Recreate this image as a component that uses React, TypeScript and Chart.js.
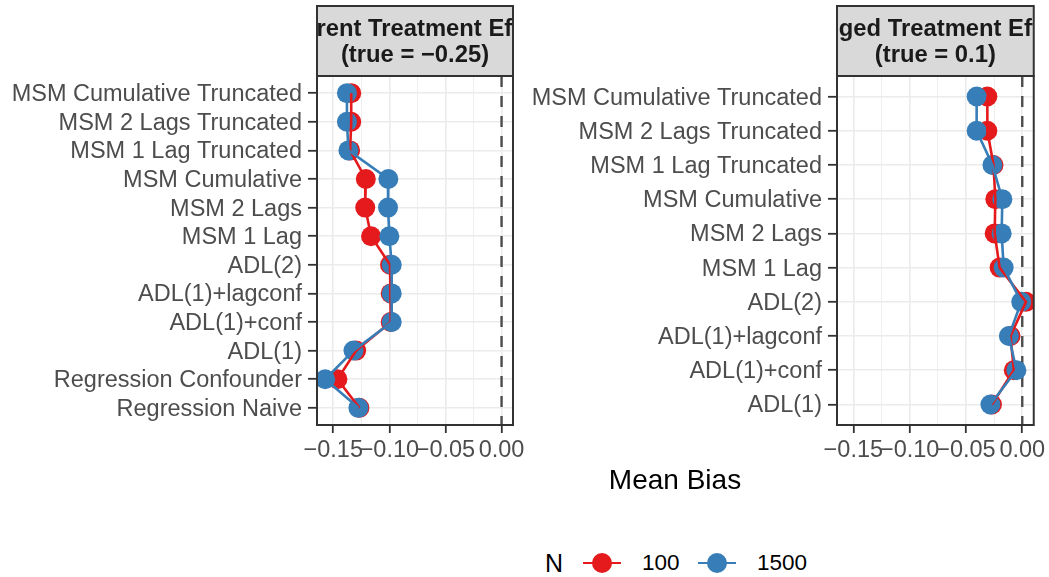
import React, { useEffect, useRef } from "react";
import { Chart, registerables } from "chart.js";

Chart.register(...registerables);

const FONT = "'Liberation Sans', Arial, Helvetica, sans-serif";

// ---- data ----
const LEFT_CATEGORIES = [
  "MSM Cumulative Truncated",
  "MSM 2 Lags Truncated",
  "MSM 1 Lag Truncated",
  "MSM Cumulative",
  "MSM 2 Lags",
  "MSM 1 Lag",
  "ADL(2)",
  "ADL(1)+lagconf",
  "ADL(1)+conf",
  "ADL(1)",
  "Regression Confounder",
  "Regression Naive",
];
const LEFT_N100 = [-0.134, -0.134, -0.135, -0.121, -0.1215, -0.1163, -0.0994, -0.0988, -0.0988, -0.1296, -0.1463, -0.1267];
const LEFT_N1500 = [-0.1378, -0.1378, -0.1365, -0.1009, -0.1012, -0.1, -0.0979, -0.0979, -0.0979, -0.132, -0.1572, -0.1276];

const RIGHT_CATEGORIES = [
  "MSM Cumulative Truncated",
  "MSM 2 Lags Truncated",
  "MSM 1 Lag Truncated",
  "MSM Cumulative",
  "MSM 2 Lags",
  "MSM 1 Lag",
  "ADL(2)",
  "ADL(1)+lagconf",
  "ADL(1)+conf",
  "ADL(1)",
];
const RIGHT_N100 = [-0.031, -0.031, -0.0255, -0.0239, -0.0245, -0.0201, 0.0033, -0.0104, -0.0075, -0.0269];
const RIGHT_N1500 = [-0.0405, -0.0405, -0.0265, -0.0177, -0.0183, -0.0165, -0.0009, -0.0119, -0.0052, -0.0283];

const LEFT_TITLE = ["Current Treatment Effect", "(true = \u22120.25)"];
const RIGHT_TITLE = ["Lagged Treatment Effect", "(true = 0.1)"];

const X_TICKS = [-0.15, -0.125, -0.1, -0.075, -0.05, -0.025, 0];
const X_MAJOR = [-0.15, -0.1, -0.05, 0];
const X_TICK_LABELS = ["\u22120.15", "\u22120.10", "\u22120.05", "0.00"];
const X_MIN = -0.1645;
const X_MAX = 0.0102;
const REF_VALUE = 0;

const SERIES_NAMES = ["100", "1500"];
const SERIES_COLORS = ["#E41A1C", "#377EB8"];

// ---- helpers ----
const majorIndex = (v: number) => X_MAJOR.findIndex((m) => Math.abs(m - v) < 1e-9);

const panelDecor = {
  id: "panelDecor",
  beforeDatasetsDraw(chart: any, _args: any, opts: any) {
    const { ctx, chartArea: a, scales } = chart;
    const x = scales.x.getPixelForValue(opts.refValue);
    ctx.save();
    ctx.beginPath();
    ctx.rect(a.left, a.top, a.right - a.left, a.bottom - a.top);
    ctx.clip();
    ctx.setLineDash([11, 9]);
    ctx.strokeStyle = "#4D4D4D";
    ctx.lineWidth = 2.4;
    ctx.beginPath();
    ctx.moveTo(x, a.top);
    ctx.lineTo(x, a.bottom);
    ctx.stroke();
    ctx.restore();
  },
  afterDraw(chart: any, _args: any, opts: any) {
    const { ctx, chartArea: a } = chart;
    const stripTop = 6;
    ctx.save();
    // strip
    ctx.fillStyle = "#D9D9D9";
    ctx.fillRect(a.left, stripTop, a.right - a.left, a.top - stripTop);
    ctx.save();
    ctx.beginPath();
    ctx.rect(a.left, stripTop, a.right - a.left, a.top - stripTop);
    ctx.clip();
    ctx.fillStyle = "#1A1A1A";
    ctx.font = `bold 23.8px ${FONT}`;
    ctx.textAlign = "center";
    ctx.textBaseline = "alphabetic";
    const cx = (a.left + a.right) / 2;
    ctx.fillText(opts.title[0], cx, 35.5);
    ctx.fillText(opts.title[1], cx, 62);
    ctx.restore();
    ctx.strokeStyle = "#333333";
    ctx.lineWidth = 2;
    ctx.strokeRect(a.left, stripTop, a.right - a.left, a.top - stripTop);
    // panel border
    ctx.strokeRect(a.left, a.top, a.right - a.left, a.bottom - a.top);
    ctx.restore();
  },
};

function makeConfig(cats: string[], v100: number[], v1500: number[], title: string[], rightPad: number): any {
  const pts = (vals: number[]) => vals.map((v, i) => ({ x: v, y: i }));
  const lineDs = (vals: number[], color: string, label: string) => ({
    label,
    data: pts(vals),
    borderColor: color,
    backgroundColor: color,
    borderWidth: 2.6,
    pointRadius: 0,
    showLine: true,
    fill: false,
    tension: 0,
    clip: 0,
  });
  const pointDs = (vals: number[], color: string, label: string) => ({
    label,
    data: pts(vals),
    borderColor: color,
    backgroundColor: color,
    pointBackgroundColor: color,
    pointBorderWidth: 0,
    pointRadius: 10,
    showLine: false,
    clip: 0,
  });
  return {
    type: "line",
    data: {
      datasets: [
        lineDs(v1500, SERIES_COLORS[1], SERIES_NAMES[1]),
        lineDs(v100, SERIES_COLORS[0], SERIES_NAMES[0]),
        pointDs(v1500, SERIES_COLORS[1], SERIES_NAMES[1]),
        pointDs(v100, SERIES_COLORS[0], SERIES_NAMES[0]),
      ],
    },
    options: {
      animation: false,
      responsive: false,
      devicePixelRatio: 1,
      indexAxis: "y",
      layout: { padding: { left: 0, top: 76, right: rightPad, bottom: 0 }, autoPadding: false },
      plugins: {
        legend: { display: false },
        tooltip: { enabled: false },
        panelDecor: { refValue: REF_VALUE, title },
      },
      scales: {
        x: {
          type: "linear",
          position: "bottom",
          min: X_MIN,
          max: X_MAX,
          afterBuildTicks: (s: any) => {
            s.ticks = X_TICKS.map((v) => ({ value: v }));
          },
          afterFit: (s: any) => {
            s.height = 45;
          },
          ticks: {
            callback: (v: number) => {
              const k = majorIndex(v);
              return k >= 0 ? X_TICK_LABELS[k] : "";
            },
            color: "#4D4D4D",
            font: { size: 23.5, family: FONT },
            maxRotation: 0,
            minRotation: 0,
            autoSkip: false,
            padding: 3,
          },
          grid: {
            color: "#EBEBEB",
            lineWidth: (c: any) => (c.tick && majorIndex(c.tick.value) >= 0 ? 1.6 : 0.8),
            tickColor: (c: any) => (c.tick && majorIndex(c.tick.value) >= 0 ? "#333333" : "rgba(0,0,0,0)"),
            tickLength: 8,
            tickWidth: 1.8,
          },
          border: { display: false },
        },
        y: {
          type: "linear",
          reverse: true,
          min: -0.6,
          max: cats.length - 0.4,
          afterBuildTicks: (s: any) => {
            s.ticks = cats.map((_, i) => ({ value: i }));
          },
          afterFit: (s: any) => {
            s.width = 317;
          },
          ticks: {
            callback: (v: number) => cats[Math.round(v)],
            color: "#4D4D4D",
            font: { size: 23.5, family: FONT },
            autoSkip: false,
            padding: 6,
            labelOffset: 1.5,
          },
          grid: {
            color: "#EBEBEB",
            lineWidth: 1.6,
            tickColor: "#333333",
            tickLength: 9,
            tickWidth: 1.8,
          },
          border: { display: false },
        },
      },
    },
    plugins: [panelDecor],
  };
}

function Panel(props: { left: number; width: number; cats: string[]; v100: number[]; v1500: number[]; title: string[]; rightPad: number }) {
  const ref = useRef<HTMLCanvasElement | null>(null);
  useEffect(() => {
    if (!ref.current) return;
    const chart = new Chart(ref.current, makeConfig(props.cats, props.v100, props.v1500, props.title, props.rightPad));
    return () => chart.destroy();
  }, []);
  return (
    <div style={{ position: "absolute", left: props.left, top: 0, width: props.width, height: 470 }}>
      <canvas ref={ref} width={props.width} height={470} style={{ width: props.width, height: 470, display: "block" }} />
    </div>
  );
}

function LegendKey({ left, color }: { left: number; color: string }) {
  return (
    <div style={{ position: "absolute", left, top: 553, width: 38, height: 20 }}>
      <div style={{ position: "absolute", left: 0, top: 8.7, width: 38, height: 2.6, background: color }} />
      <div style={{ position: "absolute", left: 9, top: 0, width: 20, height: 20, borderRadius: "50%", background: color }} />
    </div>
  );
}

function LegendText({ left, text, size }: { left: number; text: string; size: number }) {
  return (
    <div
      style={{
        position: "absolute",
        left,
        top: 543,
        height: 40,
        display: "flex",
        alignItems: "center",
        fontSize: size,
        fontFamily: FONT,
        color: "#000",
        whiteSpace: "nowrap",
      }}
    >
      {text}
    </div>
  );
}

export default function App() {
  return (
    <div style={{ position: "absolute", left: 0, top: 0, width: 1049, height: 577, background: "#fff", overflow: "hidden" }}>
      <Panel left={0} width={530} cats={LEFT_CATEGORIES} v100={LEFT_N100} v1500={LEFT_N1500} title={LEFT_TITLE} rightPad={17} />
      <Panel left={520} width={529} cats={RIGHT_CATEGORIES} v100={RIGHT_N100} v1500={RIGHT_N1500} title={RIGHT_TITLE} rightPad={15} />
      <div
        style={{
          position: "absolute",
          left: 575,
          top: 460,
          width: 200,
          height: 40,
          display: "flex",
          alignItems: "center",
          justifyContent: "center",
          fontSize: 28,
          fontFamily: FONT,
          color: "#000",
        }}
      >
        Mean Bias
      </div>
      <LegendText left={545} text="N" size={25} />
      <LegendKey left={583} color={SERIES_COLORS[0]} />
      <LegendText left={642} text={SERIES_NAMES[0]} size={22.5} />
      <LegendKey left={698} color={SERIES_COLORS[1]} />
      <LegendText left={757} text={SERIES_NAMES[1]} size={22.5} />
    </div>
  );
}
